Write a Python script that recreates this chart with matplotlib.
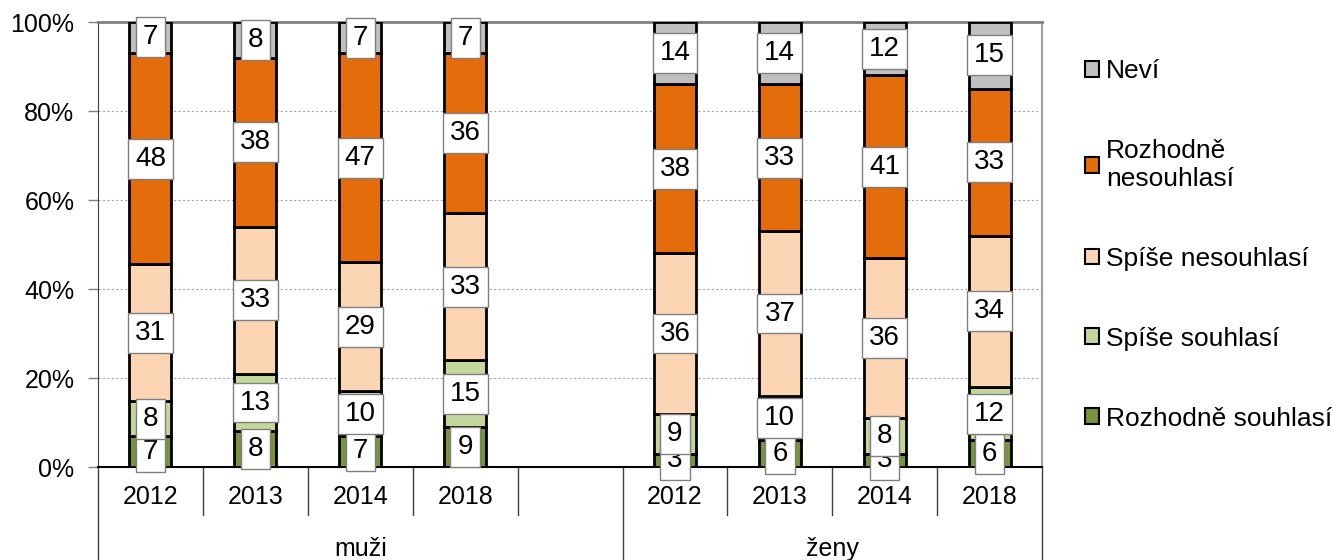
import numpy as np
import matplotlib.pyplot as plt
from matplotlib.patches import Patch

plt.rcParams['font.family'] = ['Liberation Sans', 'DejaVu Sans']

years = ["2012", "2013", "2014", "2018"]
groups = ["muži", "ženy"]
series = ["Rozhodně souhlasí", "Spíše souhlasí", "Spíše nesouhlasí",
          "Rozhodně\nnesouhlasí", "Neví"]
colors = ["#77933C", "#C3D69B", "#FCD5B5", "#E46C0A", "#C0C0C0"]

# muži 2012, 2013, 2014, 2018, ženy 2012, 2013, 2014, 2018
rozhodne_souhlasi = [7, 8, 7, 9, 3, 6, 3, 6]
spise_souhlasi = [8, 13, 10, 15, 9, 10, 8, 12]
spise_nesouhlasi = [31, 33, 29, 33, 36, 37, 36, 34]
rozhodne_nesouhlasi = [48, 38, 47, 36, 38, 33, 41, 33]
nevi = [7, 8, 7, 7, 14, 14, 12, 15]

data = np.array([rozhodne_souhlasi, spise_souhlasi, spise_nesouhlasi,
                 rozhodne_nesouhlasi, nevi], dtype=float)
shares = data / data.sum(axis=0) * 100

# slot 4 is left empty (gap between groups)
xpos = np.array([0, 1, 2, 3, 5, 6, 7, 8])

fig = plt.figure(figsize=(13.33, 5.6), dpi=100)
ax = fig.add_axes([0.0735, 0.166, 0.7083, 0.7947])

bottom = np.zeros(len(xpos))
for i in range(len(series)):
    ax.bar(xpos, shares[i], 0.4, bottom=bottom, color=colors[i],
           edgecolor="black", linewidth=2, zorder=3)
    for x, b, h, v in zip(xpos, bottom, shares[i], data[i]):
        ax.text(x, b + h / 2, "%d" % v, ha="center", va="center",
                fontsize=20, zorder=5,
                bbox=dict(boxstyle="square,pad=0.25", facecolor="white",
                          edgecolor="#808080", linewidth=1))
    bottom += shares[i]

ax.set_xlim(-0.5, 8.5)
ax.set_ylim(0, 100)
ax.set_yticks([0, 20, 40, 60, 80, 100])
ax.set_yticklabels(["0%", "20%", "40%", "60%", "80%", "100%"])
ax.tick_params(axis="y", labelsize=18, length=7, width=1, color="#808080",
               pad=10)
ax.set_xticks([])
ax.yaxis.grid(True, linestyle=(0, (2, 2)), color="#A6A6A6", linewidth=0.8,
              zorder=0)
ax.spines["left"].set_color("#404040")
ax.spines["top"].set_color("#808080")
ax.spines["top"].set_linewidth(2)
ax.spines["right"].set_color("#A0A0A0")
ax.spines["right"].set_linewidth(1.5)
ax.spines["bottom"].set_color("black")
ax.spines["bottom"].set_linewidth(1.5)

# category axis: years and groups
trans = ax.get_xaxis_transform()
for x, lab in zip(xpos, years + years):
    ax.text(x, -0.067, lab, transform=trans, ha="center", va="center",
            fontsize=18)
ax.text(2.0, -0.185, groups[0], transform=trans, ha="center", va="center",
        fontsize=18)
ax.text(6.5, -0.185, groups[1], transform=trans, ha="center", va="center",
        fontsize=18)
for d in [0.5, 1.5, 2.5, 3.5, 5.5, 6.5, 7.5]:
    ax.plot([d, d], [0, -0.108], transform=trans, color="#404040",
            linewidth=1, clip_on=False)
for d in [-0.5, 4.5, 8.5]:
    ax.plot([d, d], [0, -0.215], transform=trans, color="#404040",
            linewidth=1, clip_on=False)

handles = [Patch(facecolor=c, edgecolor="black", linewidth=1.5)
           for c in colors]
fig.legend(handles[::-1], series[::-1], loc="upper left",
           bbox_to_anchor=(0.804, 0.918), frameon=False, fontsize=19,
           handlelength=0.55, handleheight=0.55, handletextpad=0.25,
           labelspacing=2.12, borderpad=0)

fig.savefig("out.png", dpi=100)
